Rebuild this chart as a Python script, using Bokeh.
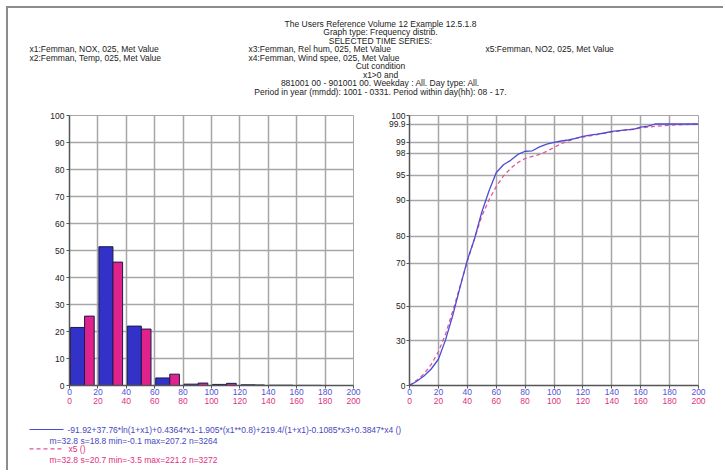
import numpy as np
from bokeh.plotting import figure
from bokeh.models import Range1d, LinearAxis, FixedTicker, Grid, ColumnDataSource
from bokeh.layouts import column, row
from bokeh.embed import file_html
from bokeh.resources import INLINE
from bokeh.core.properties import value

# ---------------- data ----------------
bin_starts = [0, 20, 40, 60, 80, 100, 120, 140, 160, 180]
freq_model = [21.5, 51.4, 22.0, 2.8, 0.5, 0.4, 0.25, 0.1, 0.05, 0.0]
freq_x5 = [25.7, 45.7, 20.9, 4.2, 0.9, 0.8, 0.2, 0.1, 0.05, 0.0]

cum_x = [0, 5, 10, 15, 20, 25, 30, 35, 40, 45, 50, 55, 60, 65, 70, 75, 80, 85, 90, 95,
         100, 105, 110, 115, 120, 125, 130, 135, 140, 145, 150, 155, 160, 165, 170, 180, 190, 200]
cum_model = [0, 2.8, 6.3, 11.0, 17.5, 30.5, 44.8, 58.8, 71.0, 79.0, 86.6, 91.8, 95.3, 96.4, 97.0,
             97.8, 98.16, 98.2, 98.56, 98.8, 98.97, 99.05, 99.1, 99.18, 99.28, 99.34, 99.39, 99.45,
             99.53, 99.57, 99.61, 99.63, 99.74, 99.79, 99.9, 99.9, 99.9, 99.9]
cum_x5 = [0, 3.5, 7.7, 14.0, 22.5, 33.8, 47.3, 59.2, 70.6, 79.0, 85.5, 90.0, 92.7, 94.8, 95.9,
          96.7, 97.25, 97.55, 97.8, 98.15, 98.5, 98.85, 99.05, 99.18, 99.25, 99.31, 99.37, 99.44,
          99.5, 99.55, 99.6, 99.65, 99.7, 99.74, 99.78, 99.84, 99.87, 99.9]

x_ticks = [0, 20, 40, 60, 80, 100, 120, 140, 160, 180, 200]
freq_ticks = [0, 10, 20, 30, 40, 50, 60, 70, 80, 90, 100]
prob_tick_values = [0, 30, 50, 70, 80, 90, 95, 98, 99, 99.9, 100]
prob_tick_labels = ["0", "30", "50", "70", "80", "90", "95", "98", "99", "99.9", "100"]
# probability-axis scale: position of each tick on the axis (axis units, 0..270)
prob_tick_pos = [0, 45, 79.5, 122.5, 149.5, 185.5, 210.5, 232.5, 243.5, 261.5, 270]

title_lines = ["The Users Reference Volume 12 Example 12.5.1.8",
               "Graph type: Frequency distrib.",
               "SELECTED TIME SERIES:"]
series_col1 = ["x1:Femman, NOX, 025, Met Value", "x2:Femman, Temp, 025, Met Value"]
series_col2 = ["x3:Femman, Rel hum, 025, Met Value", "x4:Femman, Wind spee, 025, Met Value"]
series_col3 = ["x5:Femman, NO2, 025, Met Value"]
cond_lines = ["Cut condition", "x1>0 and",
              "881001 00 - 901001 00. Weekday : All. Day type: All.",
              "Period in year (mmdd): 1001 - 0331. Period within day(hh): 08 - 17."]
legend_names = ["-91.92+37.76*ln(1+x1)+0.4364*x1-1.905*(x1**0.8)+219.4/(1+x1)-0.1085*x3+0.3847*x4 ()",
                "x5 ()"]
legend_stats = ["m=32.8 s=18.8 min=-0.1 max=207.2 n=3264",
                "m=32.8 s=20.7 min=-3.5 max=221.2 n=3272"]

# ---------------- style ----------------
FONT = "Liberation Sans"
FS = "8.5px"
BLUE_FILL = "#3232c8"
PINK_FILL = "#e0228c"
BAR_EDGE = "#1a1a50"
BLUE_LINE = "#4c4cd2"
PINK_LINE = "#e0559c"
BLUE_TXT = "#5252d4"
PINK_TXT = "#e0307f"
GRID = "#a6a6a6"
AXIS = "#555555"
TXT = "#222222"


def plain_fig(w, h):
    f = figure(width=w, height=h, x_range=Range1d(0, w), y_range=Range1d(h, 0),
               x_axis_type=None, y_axis_type=None, output_backend="svg",
               toolbar_location=None, min_border=0)
    f.outline_line_color = None
    f.background_fill_color = "white"
    f.border_fill_color = "white"
    return f


def style_axis(ax, color, show_line=True):
    ax.major_label_text_font = FONT
    ax.major_label_text_font_size = FS
    ax.major_label_text_color = color
    ax.minor_tick_line_color = None
    ax.major_tick_in = 0
    if show_line:
        ax.axis_line_color = AXIS
        ax.axis_line_width = 1.5
        ax.major_tick_line_color = AXIS
        ax.major_tick_out = 3
        ax.major_label_standoff = 0
    else:
        ax.axis_line_color = None
        ax.major_tick_line_color = None
        ax.major_tick_out = 0
        ax.major_label_standoff = 0


def add_x_axes(f):
    a1 = LinearAxis(ticker=FixedTicker(ticks=x_ticks))
    style_axis(a1, BLUE_TXT)
    f.add_layout(a1, "below")
    a2 = LinearAxis(ticker=FixedTicker(ticks=x_ticks))
    style_axis(a2, PINK_TXT, show_line=False)
    f.add_layout(a2, "below")
    f.add_layout(Grid(dimension=0, ticker=FixedTicker(ticks=x_ticks),
                      grid_line_color=GRID, grid_line_width=1.5))


# ---------------- header ----------------
HW, HH = 715, 100
header = plain_fig(HW, HH)
cx = 372
for i, t in enumerate(title_lines):
    header.text(x=[cx], y=[15 + 8.5 * i], text=[t], text_align="center", text_baseline="middle",
                text_font=value(FONT), text_font_size=FS, text_color=TXT)
for i, t in enumerate(series_col1):
    header.text(x=[21], y=[40.5 + 8.5 * i], text=[t], text_align="left", text_baseline="middle",
                text_font=value(FONT), text_font_size=FS, text_color=TXT)
for i, t in enumerate(series_col2):
    header.text(x=[240], y=[40.5 + 8.5 * i], text=[t], text_align="left", text_baseline="middle",
                text_font=value(FONT), text_font_size=FS, text_color=TXT)
for i, t in enumerate(series_col3):
    header.text(x=[477], y=[40.5 + 8.5 * i], text=[t], text_align="left", text_baseline="middle",
                text_font=value(FONT), text_font_size=FS, text_color=TXT)
for i, t in enumerate(cond_lines):
    header.text(x=[cx], y=[57.5 + 8.5 * i], text=[t], text_align="center", text_baseline="middle",
                text_font=value(FONT), text_font_size=FS, text_color=TXT)

# ---------------- left: frequency histogram ----------------
left = figure(frame_width=284, frame_height=270, x_range=Range1d(0, 200), y_range=Range1d(0, 100),
              x_axis_type=None, y_axis_type=None, output_backend="svg", toolbar_location=None,
              min_border_left=61, min_border_right=28, min_border_top=7, min_border_bottom=25)
left.outline_line_color = GRID
left.background_fill_color = "white"
left.border_fill_color = "white"
add_x_axes(left)
ya = LinearAxis(ticker=FixedTicker(ticks=freq_ticks))
style_axis(ya, TXT)
ya.major_label_standoff = 2
left.add_layout(ya, "left")
left.add_layout(Grid(dimension=1, ticker=FixedTicker(ticks=freq_ticks),
                     grid_line_color=GRID, grid_line_width=1.5))

bs = np.array(bin_starts, dtype=float)
src_m = ColumnDataSource(dict(l=bs + 0.7, r=bs + 10.6, t=freq_model))
src_5 = ColumnDataSource(dict(l=bs + 10.6, r=bs + 17.4, t=freq_x5))
left.quad(left="l", right="r", top="t", bottom=0, source=src_m,
          fill_color=BLUE_FILL, line_color=BAR_EDGE, line_width=1)
left.quad(left="l", right="r", top="t", bottom=0, source=src_5,
          fill_color=PINK_FILL, line_color=BAR_EDGE, line_width=1)

# ---------------- right: cumulative on probability scale ----------------
right = figure(frame_width=289, frame_height=270, x_range=Range1d(0, 200),
               y_range=Range1d(0, prob_tick_pos[-1]),
               x_axis_type=None, y_axis_type=None, output_backend="svg", toolbar_location=None,
               min_border_left=28, min_border_right=19, min_border_top=7, min_border_bottom=25)
right.outline_line_color = GRID
right.background_fill_color = "white"
right.border_fill_color = "white"
add_x_axes(right)
pya = LinearAxis(ticker=FixedTicker(ticks=prob_tick_pos),
                 major_label_overrides={p: l for p, l in zip(prob_tick_pos, prob_tick_labels)})
style_axis(pya, TXT)
pya.major_label_standoff = 1
right.add_layout(pya, "left")
right.add_layout(Grid(dimension=1, ticker=FixedTicker(ticks=prob_tick_pos),
                      grid_line_color=GRID, grid_line_width=1.5))


def prob_scale(v):
    return np.interp(v, prob_tick_values, prob_tick_pos)


right.line(cum_x, prob_scale(cum_x5), line_color=PINK_LINE, line_width=1.3, line_dash="4 3")
right.line(cum_x, prob_scale(cum_model), line_color=BLUE_LINE, line_width=1.3)

# ---------------- footer legend ----------------
FW, FH = 709, 60
footer = plain_fig(FW, FH)
leg_colors = [BLUE_LINE, PINK_LINE]
leg_text_colors = ["#4848c0", "#e03080"]
leg_dash = ["solid", "4 3"]
for i in range(2):
    y0 = 19 + 19.3 * i
    footer.segment(x0=[21], y0=[y0], x1=[55], y1=[y0], line_color=leg_colors[i],
                   line_width=1.2, line_dash=leg_dash[i])
    footer.text(x=[59 + 1 * i], y=[y0], text=[legend_names[i]], text_align="left",
                text_baseline="middle", text_font=value(FONT), text_font_size=FS,
                text_color=leg_text_colors[i])
    footer.text(x=[41], y=[y0 + 11], text=[legend_stats[i]], text_align="left",
                text_baseline="middle", text_font=value(FONT), text_font_size=FS,
                text_color=leg_text_colors[i])

layout = column(header, row(left, right), footer,
                styles={"margin-left": "6px", "margin-top": "6px",
                        "border-top": "2px solid #8c8c8c", "border-left": "2px solid #8c8c8c"})

open("out.html", "w").write(file_html(layout, INLINE))
